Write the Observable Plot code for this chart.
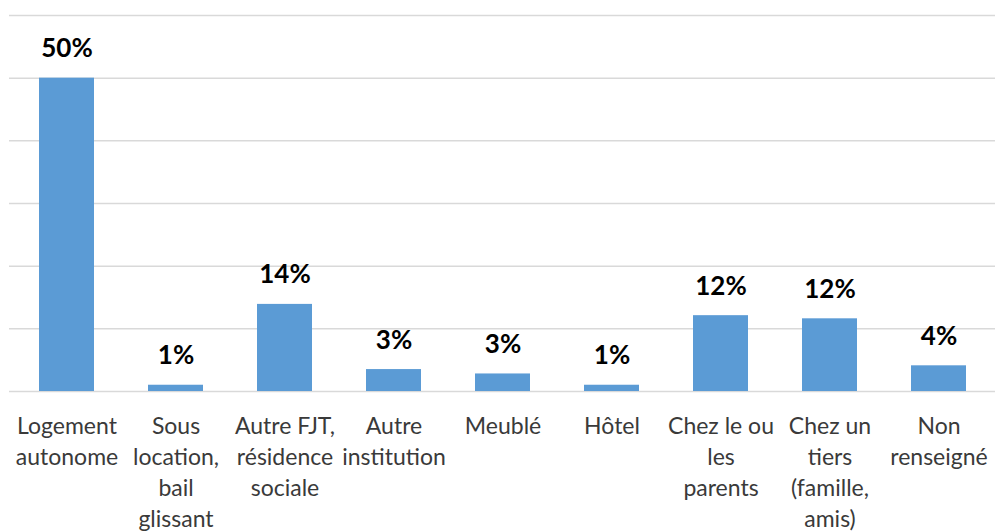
<!DOCTYPE html>
<html>
<head>
<meta charset="utf-8">
<script src="https://cdn.jsdelivr.net/npm/d3@7"></script>
<script src="https://cdn.jsdelivr.net/npm/@observablehq/plot@0.6"></script>
<style>
  html, body { margin: 0; padding: 0; background: #fff; }
  #chart { width: 995px; height: 531px; }
</style>
</head>
<body>
<div id="chart"></div>
<script>
const categories = [
  "Logement\nautonome",
  "Sous\nlocation,\nbail\nglissant",
  "Autre FJT,\nrésidence\nsociale",
  "Autre\ninstitution",
  "Meublé",
  "Hôtel",
  "Chez le ou\nles\nparents",
  "Chez un\ntiers\n(famille,\namis)",
  "Non\nrenseigné"
];
const values = [50, 1.0, 13.9, 3.5, 2.8, 1.0, 12.1, 11.6, 4.1];
const valueLabels = ["50%", "1%", "14%", "3%", "3%", "1%", "12%", "12%", "4%"];
const gridTicks = [0, 10, 20, 30, 40, 50, 60];

const data = categories.map((c, i) => ({cat: c, value: values[i], label: valueLabels[i]}));

const chart = Plot.plot({
  width: 995,
  height: 531,
  marginTop: 15,
  marginBottom: 140,
  marginLeft: 9,
  marginRight: 0,
  style: {fontFamily: "Lato, sans-serif", background: "#fff"},
  x: {domain: categories, paddingInner: 0.5, paddingOuter: 0.25, align: 0.5, label: null},
  y: {domain: [0, 60], label: null, axis: null},
  marks: [
    Plot.ruleY(gridTicks, {stroke: "#d9d9d9", strokeWidth: 1.5}),
    Plot.barY(data, {x: "cat", y: "value", fill: "#5b9bd5"}),
    Plot.text(data, {
      x: "cat", y: "value", text: "label",
      lineAnchor: "bottom", dy: -21,
      fontSize: 26, fontWeight: 700, fill: "#000"
    }),
    Plot.axisX({
      tickSize: 0, tickPadding: 20,
      fontSize: 23, lineHeight: 1.35,
      fill: "#3a3a3a", label: null
    })
  ]
});
document.getElementById("chart").appendChild(chart);
</script>
</body>
</html>
